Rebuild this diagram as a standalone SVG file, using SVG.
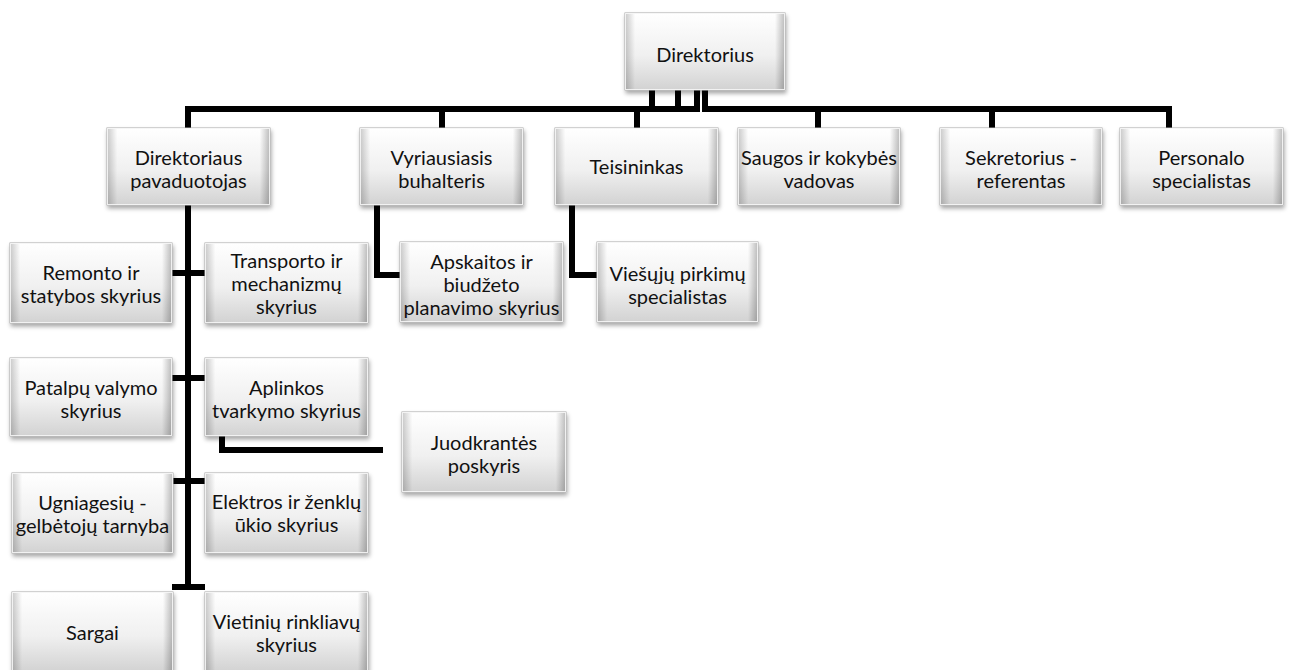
<svg xmlns="http://www.w3.org/2000/svg" width="1296" height="670" viewBox="0 0 1296 670">
<defs>
<linearGradient id="gv" x1="0" y1="0" x2="0" y2="1">
<stop offset="0" stop-color="#ffffff"/>
<stop offset="0.55" stop-color="#f0f0f0"/>
<stop offset="1" stop-color="#d2d2d2"/>
</linearGradient>
<linearGradient id="gh" x1="0" y1="0" x2="1" y2="0">
<stop offset="0" stop-color="#000" stop-opacity="0.2"/>
<stop offset="0.06" stop-color="#000" stop-opacity="0"/>
<stop offset="0.94" stop-color="#000" stop-opacity="0"/>
<stop offset="1" stop-color="#000" stop-opacity="0.25"/>
</linearGradient>
<filter id="sh" x="-10%" y="-10%" width="125%" height="130%">
<feDropShadow dx="1" dy="3" stdDeviation="2" flood-color="#000" flood-opacity="0.35"/>
</filter>
</defs>
<style>
.box{fill:url(#gv);stroke:#a8a8a8;stroke-width:1;filter:url(#sh)}
.bev{fill:url(#gh);stroke:#ffffff;stroke-width:1;stroke-opacity:0.8}
.t{font-family:Lato,"Open Sans","Liberation Sans",sans-serif;font-size:20px;fill:#111;text-anchor:middle}
.c{fill:none;stroke:#000;stroke-width:6;stroke-linejoin:miter;stroke-linecap:butt}
</style>
<rect width="1296" height="670" fill="#fff"/>
<g id="connectors">
<path class="c" d="M652,90 V109 H188 V128"/>
<path class="c" d="M678,90 V109 H442 V128"/>
<path class="c" d="M697,90 V109 H637 V128"/>
<path class="c" d="M705,90 V109 H818 V128"/>
<path class="c" d="M705,90 V109 H992 V128"/>
<path class="c" d="M705,90 V109 H1169 V128"/>
<path class="c" d="M188,205 V590"/>
<path class="c" d="M172,273 H205"/>
<path class="c" d="M172,378 H205"/>
<path class="c" d="M172,481 H205"/>
<path class="c" d="M172,587 H205"/>
<path class="c" d="M377,205 V275 H400"/>
<path class="c" d="M572,205 V275 H597"/>
<path class="c" d="M222,436 V450 H383"/>
</g>
<g id="n-direktorius"><rect class="box" x="625" y="13" width="160" height="77"/><rect class="bev" x="625.5" y="13.5" width="159" height="76"/><text class="t" x="705" y="62">Direktorius</text></g>
<g id="n-pavaduotojas"><rect class="box" x="107" y="128" width="163" height="77"/><rect class="bev" x="107.5" y="128.5" width="162" height="76"/><text class="t" x="188.5" y="165">Direktoriaus</text><text class="t" x="188.5" y="188">pavaduotojas</text></g>
<g id="n-buhalteris"><rect class="box" x="360" y="128" width="163" height="77"/><rect class="bev" x="360.5" y="128.5" width="162" height="76"/><text class="t" x="441.5" y="165">Vyriausiasis</text><text class="t" x="441.5" y="188">buhalteris</text></g>
<g id="n-teisininkas"><rect class="box" x="555" y="128" width="163" height="77"/><rect class="bev" x="555.5" y="128.5" width="162" height="76"/><text class="t" x="636.5" y="174">Teisininkas</text></g>
<g id="n-saugos"><rect class="box" x="738" y="128" width="162" height="77"/><rect class="bev" x="738.5" y="128.5" width="161" height="76"/><text class="t" x="819" y="165">Saugos ir kokybės</text><text class="t" x="819" y="188">vadovas</text></g>
<g id="n-sekretorius"><rect class="box" x="940" y="128" width="162" height="77"/><rect class="bev" x="940.5" y="128.5" width="161" height="76"/><text class="t" x="1021" y="165">Sekretorius -</text><text class="t" x="1021" y="188">referentas</text></g>
<g id="n-personalo"><rect class="box" x="1120" y="128" width="163" height="77"/><rect class="bev" x="1120.5" y="128.5" width="162" height="76"/><text class="t" x="1201.5" y="165">Personalo</text><text class="t" x="1201.5" y="188">specialistas</text></g>
<g id="n-remonto"><rect class="box" x="10" y="243" width="162" height="80"/><rect class="bev" x="10.5" y="243.5" width="161" height="79"/><text class="t" x="91" y="280">Remonto ir</text><text class="t" x="91" y="303">statybos skyrius</text></g>
<g id="n-transporto"><rect class="box" x="205" y="243" width="163" height="80"/><rect class="bev" x="205.5" y="243.5" width="162" height="79"/><text class="t" x="286.5" y="268">Transporto ir</text><text class="t" x="286.5" y="291">mechanizmų</text><text class="t" x="286.5" y="314">skyrius</text></g>
<g id="n-apskaitos"><rect class="box" x="400" y="242" width="163" height="80"/><rect class="bev" x="400.5" y="242.5" width="162" height="79"/><text class="t" x="481.5" y="269">Apskaitos ir</text><text class="t" x="481.5" y="292">biudžeto</text><text class="t" x="481.5" y="315">planavimo skyrius</text></g>
<g id="n-viesuju"><rect class="box" x="597" y="242" width="161" height="80"/><rect class="bev" x="597.5" y="242.5" width="160" height="79"/><text class="t" x="677.5" y="281">Viešųjų pirkimų</text><text class="t" x="677.5" y="304">specialistas</text></g>
<g id="n-patalpu"><rect class="box" x="10" y="358" width="162" height="78"/><rect class="bev" x="10.5" y="358.5" width="161" height="77"/><text class="t" x="91" y="395">Patalpų valymo</text><text class="t" x="91" y="418">skyrius</text></g>
<g id="n-aplinkos"><rect class="box" x="205" y="358" width="163" height="78"/><rect class="bev" x="205.5" y="358.5" width="162" height="77"/><text class="t" x="286.5" y="395">Aplinkos</text><text class="t" x="286.5" y="418">tvarkymo skyrius</text></g>
<g id="n-juodkrantes"><rect class="box" x="402" y="412" width="164" height="80"/><rect class="bev" x="402.5" y="412.5" width="163" height="79"/><text class="t" x="484" y="450">Juodkrantės</text><text class="t" x="484" y="473">poskyris</text></g>
<g id="n-ugniagesiu"><rect class="box" x="12" y="473" width="161" height="80"/><rect class="bev" x="12.5" y="473.5" width="160" height="79"/><text class="t" x="92.5" y="510">Ugniagesių -</text><text class="t" x="92.5" y="533">gelbėtojų tarnyba</text></g>
<g id="n-elektros"><rect class="box" x="205" y="473" width="163" height="80"/><rect class="bev" x="205.5" y="473.5" width="162" height="79"/><text class="t" x="286.5" y="509">Elektros ir ženklų</text><text class="t" x="286.5" y="532">ūkio skyrius</text></g>
<g id="n-sargai"><rect class="box" x="12" y="592" width="161" height="80"/><rect class="bev" x="12.5" y="592.5" width="160" height="79"/><text class="t" x="92.5" y="640">Sargai</text></g>
<g id="n-vietiniu"><rect class="box" x="205" y="592" width="163" height="80"/><rect class="bev" x="205.5" y="592.5" width="162" height="79"/><text class="t" x="286.5" y="629">Vietinių rinkliavų</text><text class="t" x="286.5" y="652">skyrius</text></g>
</svg>
